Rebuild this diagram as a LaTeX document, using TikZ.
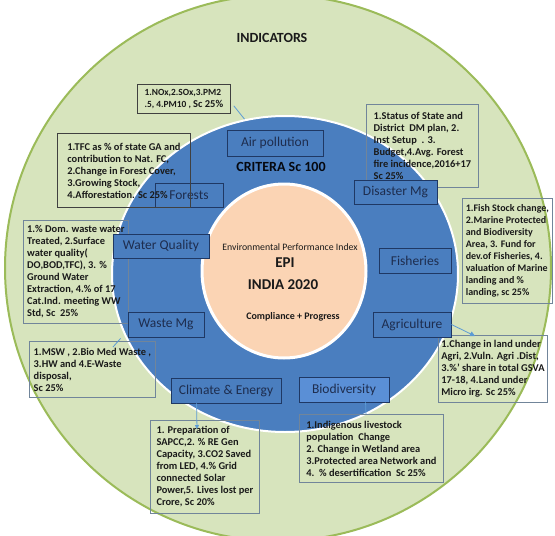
\documentclass[tikz,border=0pt]{standalone}
\usepackage{fontspec}
\setmainfont{Carlito}
\usetikzlibrary{calc,arrows.meta}
\definecolor{gfill}{HTML}{D7E4BD}
\definecolor{gline}{HTML}{9BBB59}
\definecolor{ringc}{HTML}{4A7EBF}
\definecolor{peachc}{HTML}{FBD4B4}
\definecolor{navyc}{HTML}{1F3864}
\definecolor{ltxt}{HTML}{1E2D4E}
\definecolor{btxt}{HTML}{1A1A1A}
\definecolor{bline}{HTML}{71859A}
\definecolor{dline}{HTML}{404040}
\definecolor{connc}{HTML}{5B9BD5}
\definecolor{bioc}{HTML}{5A8FD6}
\tikzset{
  lbox/.style={draw=navyc, line width=0.9pt, fill=ringc, text=ltxt,
    font=\fontsize{13.5}{15}\selectfont, inner xsep=4pt, inner ysep=0pt,
    minimum height=24},
  tbox/.style={draw=bline, line width=0.8pt, text=btxt, anchor=north west,
    font=\fontsize{10.4}{12}\selectfont\bfseries, align=left,
    inner xsep=3pt, inner ysep=3pt},
  dbox/.style={tbox, draw=dline},
  cline/.style={draw=connc, line width=0.8pt},
  ctext/.style={text=btxt, inner sep=0pt}
}
\begin{document}
\begin{tikzpicture}[x=1pt,y=-1pt]
\useasboundingbox (0,0) rectangle (555,536);
\fill[white] (0,0) rectangle (555,536);
\begin{scope}
\clip (0,0) rectangle (555,536);
\draw[gline, fill=gfill, line width=2pt] (278,268) circle [radius=273];
\end{scope}
% connector under the ring
\coordinate (airend) at (246,121);
\node[dbox, minimum width=93, minimum height=29, font=\fontsize{9.4}{12.5}\selectfont\bfseries] (airtxt) at (137,84)
  {1.NOx,2.SOx,3.PM2\\.5, 4.PM10 , {\fontsize{10.5}{12}\selectfont Sc 25\%}};
\draw[cline] ($(airtxt.south east)+(3,-8)$) -- (airend);
% ring and centre
\draw[white, fill=ringc, line width=2pt] (285,274) ellipse [x radius=173, y radius=158];
\draw[white, fill=peachc, line width=3pt] (284,271) ellipse [x radius=82, y radius=87];
% text boxes under labels
\node[tbox, minimum width=112, minimum height=83] (distxt) at (366,104)
  {1.Status of State and\\District\ \ DM plan, 2.\\Inst Setup\ \ . 3.\\Budget,4.Avg. Forest\\fire incidence,2016+17\\Sc 25\%};
\node[tbox, minimum width=105, minimum height=103] (wattxt) at (23,220)
  {1.\% Dom. waste water\\Treated, 2.Surface\\water quality(\\DO,BOD,TFC), 3. \%\\Ground Water\\Extraction, 4.\% of 17\\Cat.Ind. meeting WW\\Std, Sc\ \ 25\%};
\node[tbox, minimum width=90, minimum height=105, inner xsep=2pt, font=\fontsize{10}{12}\selectfont\bfseries] (fistxt) at (462,198)
  {1.Fish Stock change,\\2.Marine Protected\\and Biodiversity\\Area, 3. Fund for\\dev.of Fisheries, 4.\\valuation of Marine\\landing and \%\\landing, sc 25\%};
\node[tbox, minimum width=109, minimum height=67] (agrtxt) at (438,335)
  {1.Change in land under\\Agri, 2.Vuln. Agri .Dist,\\3.\%' share in total GSVA\\17-18, 4.Land under\\Micro irg. Sc 25\%};
\node[tbox, minimum width=126, minimum height=56] (wastxt) at (29,341)
  {1.MSW , 2.Bio Med Waste ,\\3.HW and 4.E-Waste\\disposal,\\Sc 25\%};
\node[tbox, minimum width=109, minimum height=93] (clitxt) at (150,420)
  {1. Preparation of\\SAPCC,2. \% RE Gen\\Capacity, 3.CO2 Saved\\from LED, 4.\% Grid\\connected Solar\\Power,5. Lives lost per\\Crore, Sc 20\%};
\node[tbox, minimum width=144, minimum height=68] (biotxt) at (299,414)
  {1.Indigenous livestock\\population\ \ Change\\2. Change in Wetland area\\3.Protected area Network and\\4.\ \ \% desertification\ \ Sc 25\%};
% labels on the ring
\node[lbox, minimum width=96, minimum height=26] (airlab) at (275,143) {Air pollution};
\node[lbox, minimum width=68] (forlab) at (189,195) {Forests};
\node[lbox, minimum width=83] (dislab) at (395.5,192) {Disaster Mg};
\node[lbox, minimum width=96] (watlab) at (161,246) {Water Quality};
\node[lbox, minimum width=76, minimum height=25] (waslab) at (166,324.5) {Waste Mg};
\node[lbox, minimum width=72, minimum height=25] (fislab) at (415,260.5) {Fisheries};
\node[lbox, minimum width=78, minimum height=25] (agrlab) at (412,324.5) {Agriculture};
\node[lbox, minimum width=110, minimum height=25] (clilab) at (226,390.5) {Climate \& Energy};
\node[lbox, fill=bioc, minimum width=90, minimum height=25] (biolab) at (344,389.5) {Biodiversity};
% forests box above its label
\node[dbox, minimum width=133, minimum height=74] (fortxt) at (57,133)
  {1.TFC as \% of state GA and\\contribution to Nat. FC,\\2.Change in Forest Cover,\\3.Growing Stock,\\4.Afforestation. Sc 25\%};
% connectors
\draw[cline, -{Triangle[length=5pt,width=5pt]}] (agrlab.east) -- ($(agrtxt.north west)+(37,1)$);
\draw[cline, -{Triangle[length=4pt,width=4pt]}] ($(clilab.south west)+(26,0)$) -- ($(clitxt.north west)+(47,9)$);
\draw[cline] ($(biolab.south west)+(67,0)$) -- ($(biotxt.north west)+(67,0)$);
\draw[cline] ($(wastxt.north west)+(84,6)$) -- ($(waslab.south west)+(-7,1)$);
% titles
\node[ctext, font=\fontsize{14}{16}\selectfont\bfseries] (indic) at (272,38) {INDICATORS};
\node[ctext, text=black!85!navyc, font=\fontsize{14}{16}\selectfont\bfseries] (crit) at (281,167) {CRITERA Sc 100};
\node[ctext, font=\fontsize{9.8}{11}\selectfont] (epil) at (290,247) {Environmental\ Performance\ Index};
\node[ctext, font=\fontsize{15}{17}\selectfont\bfseries] (epi) at (285,263) {EPI};
\node[ctext, font=\fontsize{15}{17}\selectfont\bfseries] (india) at (283,285) {INDIA 2020};
\node[ctext, font=\fontsize{10}{12}\selectfont\bfseries] (comp) at (293,317) {Compliance + Progress};
\end{tikzpicture}
\end{document}
